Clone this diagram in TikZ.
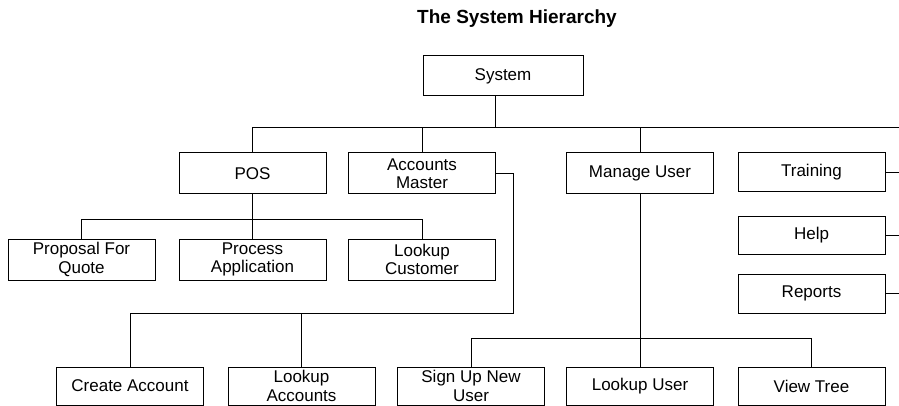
\documentclass[tikz,border=0pt]{standalone}
\usepackage{fontspec}
\setmainfont{Liberation Sans}
\usepackage{tikz}

\begin{document}
\begin{tikzpicture}[x=1pt,y=-1pt,line width=1pt,
    box/.style={shape=rectangle,draw=black,minimum width=147pt,minimum height=41pt,
      inner sep=0pt,align=center,font=\fontsize{17pt}{18.5pt}\selectfont}]
  \useasboundingbox (0,0) rectangle (899,406);
  \node[font=\fontsize{19pt}{22pt}\bfseries] (title) at (517,19) {The System Hierarchy};
  \node[box,minimum width=160pt,minimum height=40pt] (sys) at (503,76) {System};
  \node[box] (pos) at (252.5,173.5) {POS};
  \node[box] (acct) at (422,173.5) {Accounts\\Master};
  \node[box] (manage) at (640,173.5) {Manage User};
  \node[box,minimum height=39pt] (training) at (811.5,172.5) {Training};
  \node[box,minimum height=38pt] (help) at (811.5,235) {Help};
  \node[box,minimum height=39pt] (reports) at (811.5,293.5) {Reports};
  \node[box] (pfq) at (81.5,259.5) {Proposal For\\Quote};
  \node[box] (procapp) at (252.5,259.5) {Process\\Application};
  \node[box] (lookcust) at (422,259.5) {Lookup\\Customer};
  \node[box,minimum height=38pt] (create) at (130,386) {Create Account};
  \node[box,minimum height=38pt] (lookacct) at (301.5,386) {Lookup\\Accounts};
  \node[box,minimum height=38pt] (signup) at (471,386) {Sign Up New\\User};
  \node[box,minimum height=38pt] (lookuser) at (640,386) {Lookup User};
  \node[box,minimum height=38pt] (viewtree) at (811.5,386) {View Tree};
  \coordinate (topbus) at (899,128);
  \coordinate (posbus) at (0,219);
  \coordinate (acctbus) at (513,313);
  \coordinate (userbus) at (0,338);
  \draw ([xshift=-8pt]sys.south) -- ([xshift=-8pt]sys.south |- topbus);
  \draw (pos.north) |- (topbus);
  \draw (acct.north) -- (acct.north |- topbus);
  \draw (manage.north) -- (manage.north |- topbus);
  \draw (training.east) -- (training.east -| topbus);
  \draw (help.east) -- (help.east -| topbus);
  \draw (reports.east) -- (reports.east -| topbus);
  \draw (pos.south) -- (pos.south |- posbus);
  \draw (pfq.north) |- (lookcust.north |- posbus) -- (lookcust.north);
  \draw (procapp.north) -- (procapp.north |- posbus);
  \draw (acct.east) -| (acctbus) -| (create.north);
  \draw (lookacct.north) -- (lookacct.north |- acctbus);
  \draw (manage.south) -- (lookuser.north);
  \draw (signup.north) |- (viewtree.north |- userbus) -- (viewtree.north);
\end{tikzpicture}
\end{document}
